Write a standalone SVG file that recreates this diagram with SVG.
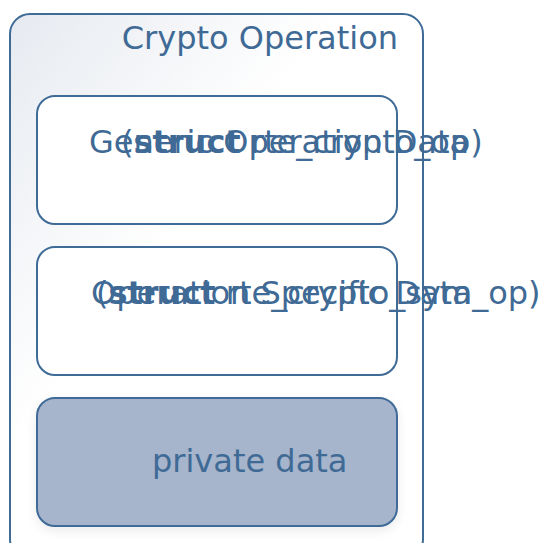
<svg xmlns="http://www.w3.org/2000/svg" width="541" height="543" viewBox="0 0 541 543">
<style>
.box{stroke:#3f6b97;stroke-width:2}
.t{font-family:"DejaVu Sans",sans-serif;fill:#3f6a95;font-size:32px}
</style>
<defs>
<linearGradient id="g" x1="0" y1="0" x2="1" y2="1" gradientUnits="objectBoundingBox">
<stop offset="0" stop-color="#e6eaf0"/>
<stop offset="0.4" stop-color="#ffffff"/>
<stop offset="1" stop-color="#ffffff"/>
</linearGradient>
<filter id="sh" x="-20%" y="-20%" width="140%" height="150%">
<feGaussianBlur in="SourceAlpha" stdDeviation="6"/>
<feOffset dy="4"/>
<feComponentTransfer><feFuncA type="linear" slope="0.08"/></feComponentTransfer>
<feMerge><feMergeNode/><feMergeNode in="SourceGraphic"/></feMerge>
</filter>
</defs>
<g id="crypto-operation">
<rect class="box" x="10" y="14" width="413" height="545" rx="20" fill="url(#g)"/>
<text class="t" x="398" y="49" text-anchor="end">Crypto Operation</text>
</g>
<g id="generic-operation-data">
<rect class="box" x="37" y="96" width="360" height="128" rx="18" fill="#ffffff"/>
<text class="t" x="89" y="153">Generic Operation Data</text>
<text class="t" x="121" y="153">(<tspan font-weight="bold">struct</tspan> rte_crypto_op)</text>
</g>
<g id="operation-specific-data">
<rect class="box" x="37" y="247" width="360" height="128" rx="18" fill="#ffffff"/>
<text class="t" x="91" y="304">Operation Specific Data</text>
<text class="t" x="96" y="304">(<tspan font-weight="bold">struct</tspan> rte_crypto_sym_op)</text>
</g>
<g id="private-data">
<rect class="box" x="37" y="398" width="360" height="128" rx="18" fill="#a6b5cb" filter="url(#sh)"/>
<text class="t" x="152" y="472">private data</text>
</g>
<g id="connectors"/>
</svg>
